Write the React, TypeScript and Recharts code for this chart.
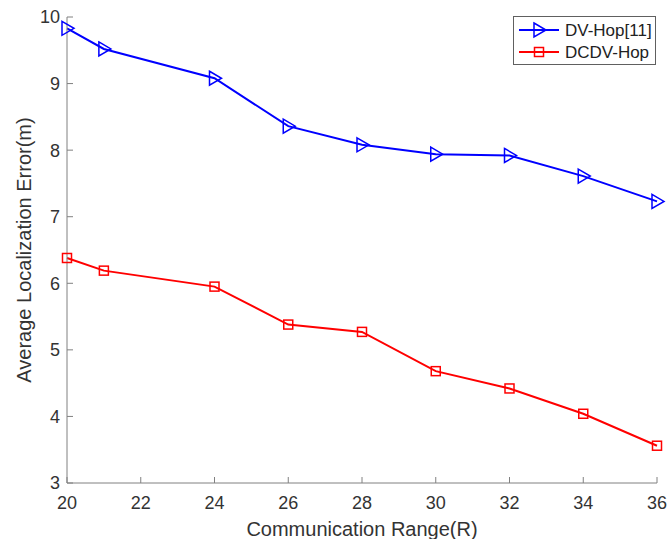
import { LineChart, Line, XAxis, YAxis } from 'recharts';

const ranges = [20, 21, 24, 26, 28, 30, 32, 34, 36];
const dvHop = [9.83, 9.52, 9.08, 8.36, 8.08, 7.94, 7.92, 7.61, 7.23];
const dcdvHop = [6.38, 6.19, 5.95, 5.38, 5.27, 4.68, 4.42, 4.04, 3.56];
const xTicks = [20, 22, 24, 26, 28, 30, 32, 34, 36];
const yTicks = [3, 4, 5, 6, 7, 8, 9, 10];

const data = ranges.map((r, i) => ({ range: r, dv: dvHop[i], dcdv: dcdvHop[i] }));

const BLUE = '#0000ff';
const RED = '#ff0000';
const AXIS = '#808080';
const TEXT = '#333333';
const FONT = '"Liberation Sans", Arial, sans-serif';

const Triangle = (props: any) => {
  const { cx, cy } = props;
  if (cx == null || cy == null) return null;
  return (
    <polygon
      points={`${cx - 5},${cy - 7} ${cx + 7},${cy} ${cx - 5},${cy + 7}`}
      fill="none"
      stroke={BLUE}
      strokeWidth={1.5}
    />
  );
};

const Square = (props: any) => {
  const { cx, cy } = props;
  if (cx == null || cy == null) return null;
  return <rect x={cx - 4.5} y={cy - 4.5} width={9} height={9} fill="none" stroke={RED} strokeWidth={1.5} />;
};

// legend box drawn on top of the chart, top right
function LegendBox() {
  return (
    <svg
      width={143}
      height={49}
      style={{ position: 'absolute', left: 513, top: 16, fontFamily: FONT }}
    >
      <rect x={0.5} y={0.5} width={142} height={48} fill="#fff" stroke="#606060" strokeWidth={1} />
      <line x1={6} y1={14} x2={46} y2={14} stroke={BLUE} strokeWidth={2} />
      <polygon points="21,7 33,14 21,21" fill="none" stroke={BLUE} strokeWidth={1.5} />
      <text x={52} y={20} fontSize={17} fill="#222">DV-Hop[11]</text>
      <line x1={6} y1={36} x2={46} y2={36} stroke={RED} strokeWidth={2} />
      <rect x={21.5} y={31.5} width={9} height={9} fill="none" stroke={RED} strokeWidth={1.5} />
      <text x={52} y={42} fontSize={17} fill="#222">DCDV-Hop</text>
    </svg>
  );
}

export default function App() {
  return (
    <div style={{ position: 'fixed', left: 0, top: 0, width: 667, height: 539, background: '#fff' }}>
      <LineChart
        width={667}
        height={539}
        data={data}
        margin={{ top: 17, right: 10, bottom: 0, left: 0 }}
        style={{ fontFamily: FONT }}
      >
        <XAxis
          dataKey="range"
          type="number"
          domain={[20, 36]}
          ticks={xTicks}
          interval={0}
          stroke={AXIS}
          tickSize={-6}
          tickMargin={19}
          tick={{ fill: TEXT, fontSize: 18 }}
          height={56}
          label={{ value: 'Communication Range(R)', position: 'insideBottom', offset: 3, fill: TEXT, fontSize: 20 }}
        />
        <YAxis
          type="number"
          domain={[3, 10]}
          ticks={yTicks}
          interval={0}
          stroke={AXIS}
          tickSize={-6}
          tickMargin={13}
          width={67}
          tick={{ fill: TEXT, fontSize: 18 }}
          label={{
            value: 'Average Localization Error(m)',
            angle: -90,
            position: 'insideLeft',
            dx: 19,
            style: { textAnchor: 'middle' },
            fill: TEXT,
            fontSize: 20,
          }}
        />
        <Line
          dataKey="dv"
          stroke={BLUE}
          strokeWidth={2}
          dot={<Triangle />}
          activeDot={false}
          isAnimationActive={false}
        />
        <Line
          dataKey="dcdv"
          stroke={RED}
          strokeWidth={2}
          dot={<Square />}
          activeDot={false}
          isAnimationActive={false}
        />
      </LineChart>
      <LegendBox />
    </div>
  );
}
